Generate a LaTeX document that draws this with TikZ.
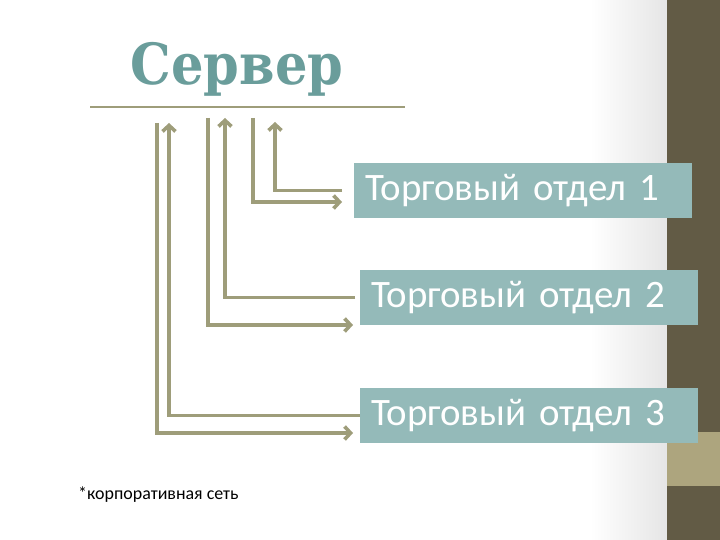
\documentclass[tikz,border=0pt]{standalone}
\usepackage{fontspec}
\setmainfont{Carlito}
\newfontfamily\titlefont{DejaVu Serif Condensed}
\usepackage{tikz}
\usetikzlibrary{arrows.meta}
\usetikzlibrary{calc}
\definecolor{deptfill}{HTML}{94BAB9}
\definecolor{linkcol}{HTML}{9E9D7A}
\definecolor{barcol}{HTML}{625B45}
\definecolor{tancol}{HTML}{ADA57E}
\definecolor{titlecol}{HTML}{6A9D9B}
\tikzstyle{dept}=[fill=deptfill,text=white,anchor=west,minimum height=55bp,text width=316bp,inner xsep=11bp,inner ysep=0pt,align=left,font=\fontsize{39}{41}\selectfont]
\tikzstyle{link} = [draw=linkcol,line width=3.6bp,-{Straight Barb[length=6bp,width=13bp]}]
\tikzstyle{rule} = [draw=linkcol,line width=2bp]
\tikzstyle{title} = [anchor=base,text=titlecol,inner sep=0pt,font=\titlefont\bfseries\fontsize{57}{60}\selectfont]
\tikzstyle{note} = [anchor=base west,inner sep=0pt,font=\fontsize{18}{20}\selectfont]

\begin{document}
\begin{tikzpicture}[x=1bp,y=-1bp]
\useasboundingbox (0,0) rectangle (720,540);

%background
\shade[left color=white,right color=black!10] (590,0) rectangle (667,540);
\fill[barcol] (667,0) rectangle (720,540);
\fill[tancol] (667,432) rectangle (720,486);

%title
\node[title] (server) at (237,85) {Сервер};
\coordinate (rule-l) at (90,107);
\coordinate (rule-r) at (405,107);
\draw[rule] (rule-l) -- (rule-r);

%boxes
    \foreach \pos/\name/\label in {{(354,190.5)/dept1/Торговый отдел 1}, {(360,297.5)/dept2/Торговый отдел 2}, {(360,415.5)/dept3/Торговый отдел 3}}
        \node[dept] (\name) at \pos {\label};

%top ends
    \foreach \pos/\name in {{(275,122)/dept1-up}, {(253,118)/dept1-down}, {(225,118)/dept2-up}, {(208,118)/dept2-down}, {(169,123)/dept3-up}, {(157,123)/dept3-down}}
        \path \pos coordinate (\name);

% Connect boxes with the server
    \foreach \name/\sx/\dx/\dy in {dept1/-12/-12/-11.5, dept2/-5/-7/-27.5, dept3/0/-7/-17.5}
    {
        \draw[link] ([xshift=\sx bp]\name.west) -| (\name-up);
        \draw[link] (\name-down) |- ([xshift=\dx bp,yshift=\dy bp]\name.west);
    }

%note
\node[note] (net) at (78,499) {*корпоративная сеть};

\end{tikzpicture}
\end{document}
